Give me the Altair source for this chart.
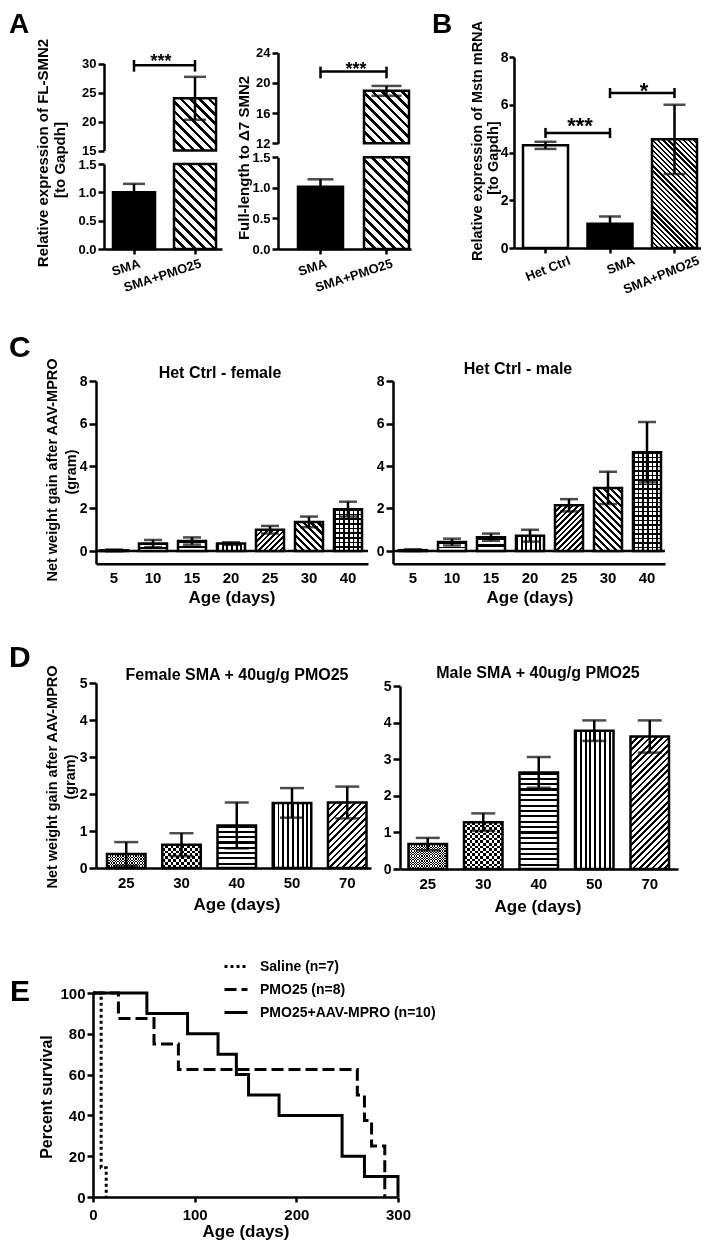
import math
import altair as alt
import pandas as pd

# ---------------- data ----------------
a_groups = ["SMA", "SMA+PMO25"]
a_fl_mean = [1.0, 24.0]
a_fl_sem = [0.15, 3.7]
a_ratio_mean = [1.02, 18.95]
a_ratio_sem = [0.12, 0.65]

b_groups = ["Het Ctrl", "SMA", "SMA+PMO25"]
b_mean = [4.30, 1.02, 4.55]
b_sem = [0.15, 0.30, 1.45]

c_days = ["5", "10", "15", "20", "25", "30", "40"]
c_female_mean = [0.03, 0.35, 0.47, 0.35, 1.00, 1.37, 1.97]
c_female_sem = [0.04, 0.17, 0.17, 0.06, 0.18, 0.25, 0.35]
c_male_mean = [0.04, 0.42, 0.65, 0.72, 2.15, 2.97, 4.65]
c_male_sem = [0.04, 0.16, 0.17, 0.28, 0.29, 0.76, 1.42]

d_days = ["25", "30", "40", "50", "70"]
d_female_mean = [0.38, 0.63, 1.15, 1.76, 1.77]
d_female_sem = [0.32, 0.31, 0.62, 0.40, 0.43]
d_male_mean = [0.68, 1.28, 2.64, 3.78, 3.62]
d_male_sem = [0.17, 0.24, 0.42, 0.28, 0.44]

e_groups = ["Saline (n=7)", "PMO25 (n=8)", "PMO25+AAV-MPRO (n=10)"]
e_saline_days = [0, 8, 13]
e_saline_surv = [100, 14.3, 0]
e_pmo_days = [0, 25, 60, 84, 260, 267, 274, 287]
e_pmo_surv = [100, 87.5, 75, 62.5, 50, 37.5, 25, 0]
e_combo_days = [0, 53, 93, 123, 141, 153, 183, 245, 267, 300]
e_combo_surv = [100, 90, 80, 70, 60, 50, 40, 20, 10, 0]

# significance brackets (data units of each panel): [line, cap top, cap bottom]
a_fl_sig = [29.7, 30.6, 28.6]
a_ratio_sig = [21.5, 22.15, 20.6]
b_sig1 = [4.82, 5.03, 4.61]
b_sig2 = [6.49, 6.70, 6.28]

# ---------------- layout / style ----------------
FONT = "Liberation Sans"
LW = 2.5
W, H = 693, 1235


def X(px):
    return px - 8


def Y(py):
    return py - 8


def band(first_start, step, bw, n, r0, r1, cats):
    pi = (step - bw) / step
    inner = step * (n - pi)
    po = max(0.0, (r1 - r0 - inner) / (2 * step))
    al = (first_start - r0) / max(1e-6, (r1 - r0 - inner))
    al = min(1.0, max(0.0, al))
    return alt.Scale(domain=cats, range=[X(r0), X(r1)], paddingInner=pi,
                     paddingOuter=po, align=al, round=False)


def lin(domain, p0, p1, clamp=False, horizontal=False):
    rng = [X(p0), X(p1)] if horizontal else [Y(p0), Y(p1)]
    return alt.Scale(domain=domain, range=rng, zero=False, nice=False, clamp=clamp)


def yaxis(ax_px, values, fmt, size=14, tick=6, pad=2):
    return alt.Axis(orient="left", offset=-X(ax_px), values=values, format=fmt,
                    title=None, grid=False, domainColor="black", domainWidth=LW,
                    ticks=True, tickColor="black", tickWidth=LW, tickSize=tick,
                    labelFont=FONT, labelFontSize=size, labelFontWeight="bold",
                    labelColor="black", labelPadding=pad, labelFlush=False,
                    labelOverlap=False)


def xaxis(ay_px, size=15, angle=0, align="center", baseline="top", tick=0,
          pad=6, values=None, fmt=None, loff=0):
    kw = dict(orient="bottom", offset=Y(ay_px) - H, title=None, grid=False,
              domainColor="black", domainWidth=LW, ticks=tick > 0,
              tickSize=tick, tickWidth=LW, tickColor="black", labelFont=FONT,
              labelFontSize=size, labelFontWeight="bold", labelColor="black",
              labelAngle=angle, labelAlign=align, labelBaseline=baseline,
              labelPadding=pad, labelFlush=False, labelOverlap=False,
              labelOffset=loff)
    if values is not None:
        kw["values"] = values
    if fmt is not None:
        kw["format"] = fmt
    return alt.Axis(**kw)


def stripes(kind, w, h, sp, ink, color="black", bg="white"):
    w = max(w, 1.0)
    h = max(h, 1.0)
    if kind == "h":
        n = max(1, round(h / sp))
        g = dict(x1=0, y1=0, x2=0, y2=1)
    elif kind == "v":
        n = max(1, round(w / sp))
        g = dict(x1=0, y1=0, x2=1, y2=0)
    else:
        k = (w + h) / (w * w + h * h)
        n = max(1, round((w + h) / math.sqrt(2) / sp))
        if kind == "d1":      # "/" lines
            g = dict(x1=0, y1=0, x2=k * w, y2=k * h)
        else:                 # "\" lines
            g = dict(x1=0, y1=1, x2=k * w, y2=1 - k * h)
    stops = []
    for i in range(n):
        a = i / n
        b = (i + ink) / n
        e = (i + 1) / n
        stops += [(a, color), (b, color), (b, bg), (e, bg)]
    return {"gradient": "linear",
            "stops": [{"offset": round(o, 5), "color": c} for o, c in stops], **g}


def paints(pat, w, h):
    kind = pat[0]
    if kind == "solid":
        return [dict(fill=pat[1])]
    if kind == "lines":
        _, d, sp, ink = pat
        return [dict(fill=stripes(d, w, h, sp, ink))]
    if kind == "grid":
        _, sp, ink = pat
        return [dict(fill=stripes("h", w, h, sp, ink)),
                dict(fill=stripes("v", w, h, sp, ink, bg="rgba(255,255,255,0)"))]
    if kind == "checker":
        _, sp = pat
        return [dict(fill=stripes("h", w, h, sp, 0.5)),
                dict(fill=stripes("v", w, h, sp, 0.5, color="white",
                                  bg="rgba(0,0,0,0)"), blend="difference")]
    return [dict(fill="white")]


def bar_panel(cats, means, sems, xsc, ysc, xax, yax, pats, bw, ppu, base=0.0,
              cap=20, bar_cats=None, err_cats=None, top_clip=None):
    df = pd.DataFrame({"cat": cats, "mean": means, "sem": sems})
    df["lo"] = df["mean"] - df["sem"]
    df["hi"] = df["mean"] + df["sem"]
    df["base"] = base
    src = alt.Chart(df)
    xe = alt.X("cat:N", scale=xsc, axis=xax, sort=cats)

    def ye(f):
        return alt.Y(f"{f}:Q", scale=ysc, axis=yax)

    layers = []
    for c, m in zip(cats, means):
        if bar_cats is not None and c not in bar_cats:
            continue
        top = m if top_clip is None else min(m, top_clip)
        h = max((top - base) * ppu, 1.0)
        sub = src.transform_filter(alt.datum.cat == c)
        for p in paints(pats[c], bw, h):
            layers.append(sub.mark_bar(strokeWidth=0, **p).encode(
                x=xe, y=ye("mean"), y2=alt.Y2("base:Q")))
        layers.append(sub.mark_bar(fill="transparent", stroke="black",
                                   strokeWidth=LW).encode(
            x=xe, y=ye("mean"), y2=alt.Y2("base:Q")))
    esrc = src
    if err_cats is not None:
        esrc = src.transform_filter(alt.FieldOneOfPredicate(field="cat", oneOf=err_cats))
    layers.append(esrc.mark_rule(color="black", strokeWidth=LW).encode(
        x=xe, y=ye("lo"), y2=alt.Y2("hi:Q")))
    for f in ("hi", "lo"):
        layers.append(esrc.mark_tick(color="black", thickness=LW, size=cap).encode(
            x=xe, y=ye(f)))
    return layers


def bracket(c1, c2, ys, xsc, ysc, xax, yax):
    yv, yt, yb = ys
    df = pd.DataFrame({"c1": [c1], "c2": [c2], "y": [yv], "yt": [yt], "yb": [yb]})
    src = alt.Chart(df)
    out = [src.mark_rule(color="black", strokeWidth=LW).encode(
        x=alt.X("c1:N", scale=xsc, axis=xax), x2=alt.X2("c2:N"),
        y=alt.Y("y:Q", scale=ysc, axis=yax))]
    for f in ("c1", "c2"):
        out.append(src.mark_rule(color="black", strokeWidth=LW).encode(
            x=alt.X(f"{f}:N", scale=xsc, axis=xax),
            y=alt.Y("yb:Q", scale=ysc, axis=yax), y2=alt.Y2("yt:Q")))
    return out


def txt(s, px, py, size, angle=0, weight="bold", align="center", baseline="middle"):
    return alt.Chart(pd.DataFrame({"t": [s]})).mark_text(
        font=FONT, fontSize=size, fontWeight=weight, angle=angle, align=align,
        baseline=baseline, color="black").encode(
        text="t:N", x=alt.value(X(px)), y=alt.value(Y(py)))


def stars(s, px, pcy, size):
    # pcy = visual centre of the asterisks
    return txt(s, px, pcy + 0.56 * size, size, baseline="alphabetic")


panels = []

# ---------------- Panel A (left: FL-SMN2) ----------------
a_pats = {"SMA": ("solid", "black"), "SMA+PMO25": ("lines", "d2", 7, 0.38)}
xA1 = band(113, 61, 42, 2, 104, 222, a_groups)
yA1lo = lin([0, 1.5], 249, 164, clamp=True)
yA1up = lin([15, 30], 150.5, 63.5)
xaxA = xaxis(249, size=13, angle=-18, align="right", baseline="top", tick=5,
             pad=3, loff=4)
yaxA1up = yaxis(104, [15, 20, 25, 30], "d", size=13)
panels.append(alt.layer(*bar_panel(
    a_groups, a_fl_mean, a_fl_sem, xA1, yA1lo, xaxA,
    yaxis(104, [0, 0.5, 1.0, 1.5], ".1f", size=13), a_pats, 42, 85 / 1.5,
    cap=22, err_cats=["SMA"], top_clip=1.5)))
panels.append(alt.layer(
    *bar_panel(a_groups, a_fl_mean, a_fl_sem, xA1, yA1up, None,
               yaxA1up, a_pats, 42, 87 / 15, base=15,
               cap=22, bar_cats=["SMA+PMO25"], err_cats=["SMA+PMO25"]),
    *bracket("SMA", "SMA+PMO25", a_fl_sig, xA1, yA1up, None, yaxA1up)))

# ---------------- Panel A (middle: FL / delta7) ----------------
xA2 = band(298, 66, 45, 2, 278, 411, a_groups)
yA2lo = lin([0, 1.5], 249, 157.3, clamp=True)
yA2up = lin([12, 24], 143.3, 52.7)
yaxA2up = yaxis(278, [12, 16, 20, 24], "d", size=13)
panels.append(alt.layer(*bar_panel(
    a_groups, a_ratio_mean, a_ratio_sem, xA2, yA2lo, xaxA,
    yaxis(278, [0, 0.5, 1.0, 1.5], ".1f", size=13), a_pats, 45, 91.7 / 1.5,
    cap=26, err_cats=["SMA"], top_clip=1.5)))
panels.append(alt.layer(
    *bar_panel(a_groups, a_ratio_mean, a_ratio_sem, xA2, yA2up, None,
               yaxA2up, a_pats, 45, 90.6 / 12, base=12,
               cap=30, bar_cats=["SMA+PMO25"], err_cats=["SMA+PMO25"]),
    *bracket("SMA", "SMA+PMO25", a_ratio_sig, xA2, yA2up, None, yaxA2up)))

# ---------------- Panel B ----------------
b_pats = {"Het Ctrl": ("solid", "white"), "SMA": ("solid", "black"),
          "SMA+PMO25": ("lines", "d2", 3.6, 0.45)}
xB = band(523, 64.5, 45, 3, 514, 704, b_groups)
yB = lin([0, 8], 248, 57)
xaxB = xaxis(248, size=13, angle=-22, align="right", baseline="top", tick=5,
             pad=1, loff=22)
yaxB = yaxis(514, [0, 2, 4, 6, 8], "d", size=14, tick=5, pad=1)
panels.append(alt.layer(
    *bar_panel(b_groups, b_mean, b_sem, xB, yB, xaxB, yaxB, b_pats, 45, 191 / 8, cap=22),
    *bracket("Het Ctrl", "SMA", b_sig1, xB, yB, xaxB, yaxB),
    *bracket("SMA", "SMA+PMO25", b_sig2, xB, yB, xaxB, yaxB)))

# ---------------- Panel C ----------------
c_pats = {"5": ("solid", "white"), "10": ("lines", "h", 4, 0.4),
          "15": ("lines", "h", 6, 0.35), "20": ("lines", "v", 4.5, 0.4),
          "25": ("lines", "d1", 4, 0.45), "30": ("lines", "d2", 5, 0.45),
          "40": ("grid", 4.5, 0.35)}


def zero_line(ysc, yax, p0, p1):
    return alt.Chart(pd.DataFrame({"z": [0.0]})).mark_rule(
        color="black", strokeWidth=LW).encode(
        y=alt.Y("z:Q", scale=ysc, axis=yax), x=alt.value(X(p0)), x2=alt.value(X(p1)))


for means, sems, ax_x, first, r1 in [
        (c_female_mean, c_female_sem, 96, 100, 368),
        (c_male_mean, c_male_sem, 393, 399, 665)]:
    xs = band(first, 39, 28, 7, ax_x, r1, c_days)
    ys = lin([-0.6, 8], 563.75, 381)
    yax = yaxis(ax_x, [0, 2, 4, 6, 8], "d", tick=7, pad=2)
    panels.append(alt.layer(
        zero_line(ys, yax, ax_x, r1),
        *bar_panel(c_days, means, sems, xs, ys,
                   xaxis(563.75, size=15, pad=7), yax, c_pats, 28, 21.25, cap=18)))

# ---------------- Panel D ----------------
d_pats = {"25": ("checker", 2.6), "30": ("checker", 5.2),
          "40": ("lines", "h", 5.3, 0.4), "50": ("lines", "v", 4.8, 0.4),
          "70": ("lines", "d1", 4.5, 0.45)}
for means, sems, ax_x, first, step, r1, y0, y5 in [
        (d_female_mean, d_female_sem, 96, 107, 55.25, 371, 868, 683),
        (d_male_mean, d_male_sem, 400, 408.5, 55.5, 678, 869, 686)]:
    xs = band(first, step, 38.5, 5, ax_x, r1, d_days)
    ys = lin([0, 5], y0, y5)
    panels.append(alt.layer(*bar_panel(
        d_days, means, sems, xs, ys, xaxis(y0, size=15, pad=7),
        yaxis(ax_x, [0, 1, 2, 3, 4, 5], "d", tick=7, pad=2), d_pats, 38.5,
        (y0 - y5) / 5, cap=24)))

# ---------------- Panel E ----------------
e_rows = []
for g, ds, ss in zip(e_groups, [e_saline_days, e_pmo_days, e_combo_days],
                     [e_saline_surv, e_pmo_surv, e_combo_surv]):
    for d, s in zip(ds, ss):
        e_rows.append({"group": g, "day": d, "surv": s})
e_df = pd.DataFrame(e_rows)
xE = lin([0, 300], 93, 398, horizontal=True)
yE = lin([0, 100], 1197, 993)
legE = alt.Legend(orient="none", legendX=X(223), legendY=Y(953.5), title=None,
                  symbolType="stroke", symbolSize=529, symbolStrokeWidth=3,
                  symbolStrokeColor="black", labelFont=FONT, labelFontSize=14,
                  labelFontWeight="bold", labelColor="black", labelOffset=11,
                  labelLimit=400, rowPadding=3, padding=0)
panels.append(alt.Chart(e_df).mark_line(
    interpolate="step-after", strokeWidth=3, color="black").encode(
    x=alt.X("day:Q", scale=xE,
            axis=xaxis(1197, size=15, tick=5, pad=5, values=[0, 100, 200, 300], fmt="d")),
    y=alt.Y("surv:Q", scale=yE,
            axis=yaxis(93, [0, 20, 40, 60, 80, 100], "d", size=15, tick=6, pad=2)),
    strokeDash=alt.StrokeDash("group:N", scale=alt.Scale(
        domain=e_groups, range=[[3, 3], [12, 5], [1, 0]]), legend=legE),
    detail="group:N"))

# ---------------- texts ----------------
texts = [
    txt("A", 9, 25, 28, align="left"), txt("B", 432, 25, 28, align="left"),
    txt("C", 9, 348, 30, align="left"), txt("D", 9, 658, 30, align="left"),
    txt("E", 10, 992, 30, align="left"),
    txt("Relative expression of FL-SMN2", 43, 153, 15, angle=270),
    txt("[to Gapdh]", 60, 160, 15, angle=270),
    txt("Full-length to \u03947 SMN2", 244, 158, 15, angle=270),
    txt("Relative expression of Mstn mRNA", 478, 141, 14.5, angle=270),
    txt("[to Gapdh]", 494, 158, 14.5, angle=270),
    stars("***", 161, 57, 18), stars("***", 356, 65, 18),
    stars("***", 580, 121, 22), stars("*", 644, 86, 22),
    txt("Het Ctrl - female", 220, 373, 16), txt("Het Ctrl  - male", 518, 369, 16),
    txt("Net weight gain after AAV-MPRO", 53, 470, 14.5, angle=270),
    txt("(gram)", 72, 472, 14.5, angle=270),
    txt("Age (days)", 232, 598, 17), txt("Age (days)", 530, 598, 17),
    txt("Female SMA + 40ug/g PMO25", 237, 675, 16),
    txt("Male SMA + 40ug/g PMO25", 538, 673, 16),
    txt("Net weight gain after AAV-MPRO", 53, 777, 14.5, angle=270),
    txt("(gram)", 71, 777, 14.5, angle=270),
    txt("Age (days)", 237, 905, 17), txt("Age (days)", 538, 907, 17),
    txt("Percent survival", 47, 1097, 16, angle=270),
    txt("Age (days)", 246, 1232, 17),
]

chart = alt.layer(*panels, *texts).resolve_scale(
    x="independent", y="independent").properties(
    width=W, height=H, padding=0, autosize=alt.AutoSizeParams(type="none"))
chart = chart.configure(font=FONT).configure_view(stroke=None)

chart.save("out.html", embed_options={"renderer": "svg", "actions": False})
